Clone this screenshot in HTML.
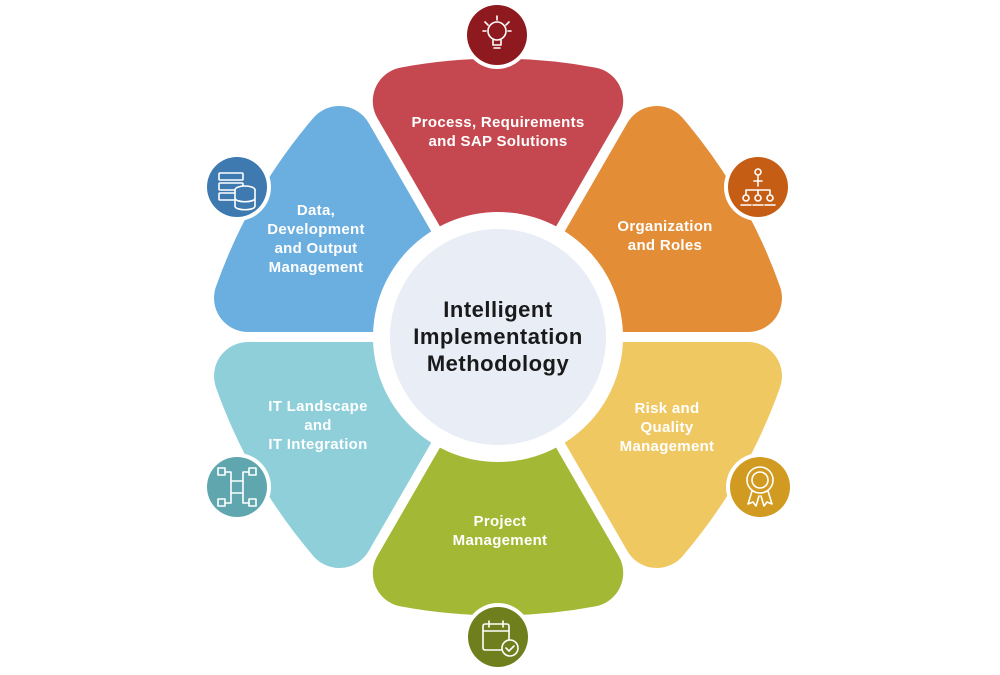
<!DOCTYPE html>
<html><head><meta charset="utf-8"><style>
html,body{margin:0;padding:0;background:#fff;}
svg{display:block;}
text{font-family:"Liberation Sans",sans-serif;font-weight:bold;}
.l{fill:#fff;font-size:15px;text-anchor:middle;letter-spacing:0.3px;}
.c{fill:#1a1a1a;font-size:22px;text-anchor:middle;letter-spacing:0.5px;}
.ic{fill:none;stroke:#fff;stroke-width:1.6;stroke-linecap:round;stroke-linejoin:round;}
</style></head><body>
<svg id="s" width="1000" height="675" viewBox="0 0 1000 675" xmlns="http://www.w3.org/2000/svg">
<g id="petals"></g>
<circle cx="498" cy="337" r="125" fill="#fff"/>
<circle cx="498" cy="337" r="108" fill="#E8EDF6"/>
<text class="c" x="498" y="317">Intelligent</text>
<text class="c" x="498" y="344">Implementation</text>
<text class="c" x="498" y="371">Methodology</text>

<text class="l" x="498" y="127">Process, Requirements</text>
<text class="l" x="498" y="146">and SAP Solutions</text>
<text class="l" x="665" y="231">Organization</text>
<text class="l" x="665" y="250">and Roles</text>
<text class="l" x="667" y="413">Risk and</text>
<text class="l" x="667" y="432">Quality</text>
<text class="l" x="667" y="451">Management</text>
<text class="l" x="500" y="526">Project</text>
<text class="l" x="500" y="545">Management</text>
<text class="l" x="318" y="411">IT Landscape</text>
<text class="l" x="318" y="430">and</text>
<text class="l" x="318" y="449">IT Integration</text>
<text class="l" x="316" y="215">Data,</text>
<text class="l" x="316" y="234">Development</text>
<text class="l" x="316" y="253">and Output</text>
<text class="l" x="316" y="272">Management</text>

<g>
<circle cx="497" cy="35" r="34" fill="#fff"/><circle cx="497" cy="35" r="30" fill="#8E1A20"/>
<g class="ic"><circle cx="497" cy="31" r="9"/><path d="M493 40v5h8v-5M494 48h6M485 22l3 3M509 22l-3 3M497 16v4M483 31h3M511 31h-3"/></g>
<circle cx="758" cy="187" r="34" fill="#fff"/><circle cx="758" cy="187" r="30" fill="#C55E14"/>
<g class="ic"><circle cx="758" cy="172" r="3"/><path d="M754 181h8M758 176v5M758 181v5M746 190h24M746 190v4M758 190v4M770 190v4"/><circle cx="746" cy="198" r="3"/><circle cx="758" cy="198" r="3"/><circle cx="770" cy="198" r="3"/><path d="M741 205h10M753 205h10M765 205h10"/></g>
<circle cx="760" cy="487" r="34" fill="#fff"/><circle cx="760" cy="487" r="30" fill="#D19B22"/>
<g class="ic"><circle cx="760" cy="480" r="13"/><circle cx="760" cy="480" r="8"/><path d="M752 491l-4 13 5-2 3 4 3-10M768 491l4 13-5-2-3 4-3-10"/></g>
<circle cx="498" cy="637" r="34" fill="#fff"/><circle cx="498" cy="637" r="30" fill="#6F7F1E"/>
<g class="ic"><rect x="483" y="624" width="26" height="26" rx="2"/><path d="M483 631h26M489 621v6M503 621v6"/><circle cx="510" cy="648" r="8" fill="#6F7F1E"/><path d="M506 648l3 3 5-5"/></g>
<circle cx="237" cy="487" r="34" fill="#fff"/><circle cx="237" cy="487" r="30" fill="#5FA6AE"/>
<g class="ic"><rect x="231" y="481" width="12" height="12"/><rect x="218" y="468" width="7" height="7"/><rect x="249" y="468" width="7" height="7"/><rect x="218" y="499" width="7" height="7"/><rect x="249" y="499" width="7" height="7"/><path d="M225 472h6v9M249 472h-6v9M225 503h6v-10M249 503h-6v-10"/></g>
<circle cx="237" cy="187" r="34" fill="#fff"/><circle cx="237" cy="187" r="30" fill="#3E79B0"/>
<g class="ic"><rect x="219" y="173" width="24" height="7" rx="1"/><rect x="219" y="183" width="24" height="7" rx="1"/><rect x="219" y="193" width="24" height="7" rx="1"/><ellipse cx="245" cy="190" rx="10" ry="4" fill="#3E79B0"/><path d="M235 190v16c0 5 20 5 20 0v-16M235 198c0 5 20 5 20 0" fill="#3E79B0"/></g>
</g>
</svg>
<script>
(function(){
var g=document.getElementById('petals');
var cx=498,cy=337,R=34,gap=5,d=gap+R,r=253,t=Math.sqrt(r*r-d*d);
var items=[[-90,'#C5474F'],[-30,'#E38D37'],[30,'#F0C862'],[90,'#A3B834'],[150,'#8ECFDA'],[210,'#6BAEE0']];
function rad(a){return a*Math.PI/180;}
items.forEach(function(it){
var th=rad(it[0]),a1=th-Math.PI/6,a2=th+Math.PI/6;
var p1=[cx+t*Math.cos(a1)-d*Math.sin(a1),cy+t*Math.sin(a1)+d*Math.cos(a1)];
var p2=[cx+t*Math.cos(a2)+d*Math.sin(a2),cy+t*Math.sin(a2)-d*Math.cos(a2)];
var q=[cx+2*d*Math.cos(th),cy+2*d*Math.sin(th)];
var p=document.createElementNS('http://www.w3.org/2000/svg','path');
p.setAttribute('d','M'+q[0]+' '+q[1]+'L'+p1[0]+' '+p1[1]+'A500 500 0 0 1 '+p2[0]+' '+p2[1]+'Z');
p.setAttribute('fill',it[1]);p.setAttribute('stroke',it[1]);
p.setAttribute('stroke-width',2*R);p.setAttribute('stroke-linejoin','round');
g.appendChild(p);
});
})();
</script>
</body></html>
